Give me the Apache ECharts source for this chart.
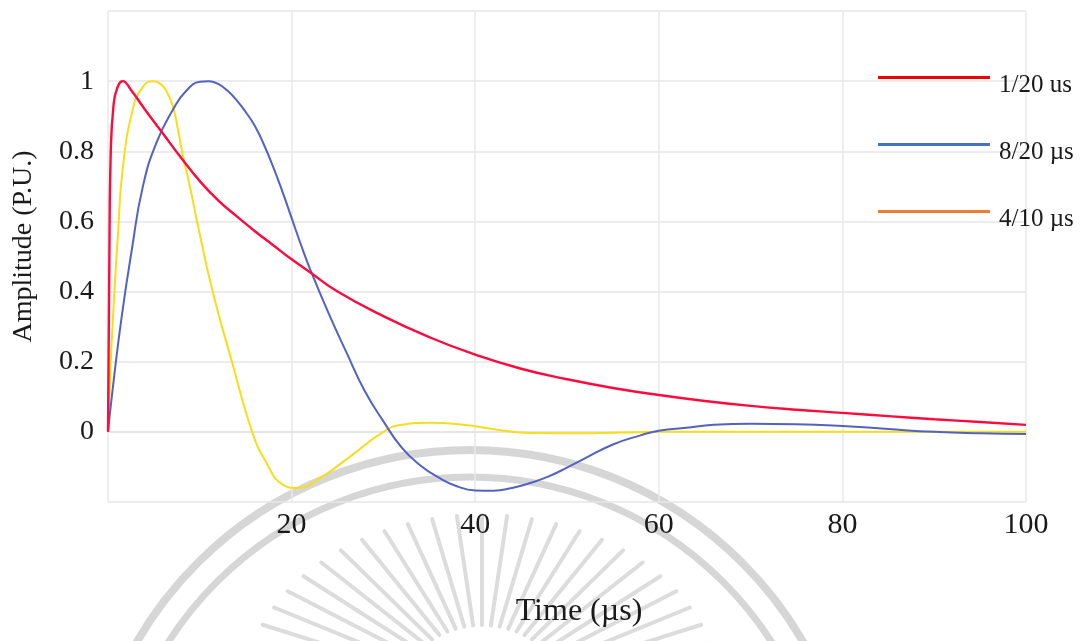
<!DOCTYPE html>
<html>
<head>
<meta charset="utf-8">
<title>Impulse waveforms</title>
<script src="https://cdn.jsdelivr.net/npm/echarts@6/dist/echarts.min.js"></script>
<style>
  html, body { margin: 0; padding: 0; background: #ffffff; }
  #chart { width: 1089px; height: 641px; }
</style>
</head>
<body>
<div id="chart"></div>
<script>
// Normalised impulse waveforms (amplitude in per-unit versus time in microseconds)

// 1/20 us waveform
const wave1T = [0, 0.15, 0.3, 0.6, 1.0, 1.6, 2.5, 4, 6, 8, 10, 12, 14, 16, 18, 20, 22, 25, 30, 35, 40, 45, 50, 55, 60, 65, 70, 75, 80, 85, 90, 95, 100];
const wave1V = [0, 0.5, 0.8, 0.93, 0.98, 1.0, 0.975, 0.92, 0.85, 0.78, 0.715, 0.66, 0.615, 0.572, 0.532, 0.492, 0.455, 0.40, 0.33, 0.27, 0.22, 0.18, 0.15, 0.125, 0.105, 0.088, 0.074, 0.063, 0.054, 0.045, 0.036, 0.028, 0.02];

// 8/20 us waveform
const wave2T = [0, 0.5, 1.5, 2.6, 3.8, 5.3, 7.1, 8.5, 10, 11, 12, 13, 14, 15, 16, 17, 18, 19, 20, 21, 22, 24, 26, 28, 30, 32, 34, 36, 38, 40, 42, 44, 46, 48, 50, 52, 55, 58, 60, 63, 66, 70, 75, 80, 85, 90, 95, 100];
const wave2V = [0, 0.12, 0.33, 0.52, 0.70, 0.826, 0.92, 0.972, 0.998, 1.0, 0.992, 0.973, 0.946, 0.912, 0.872, 0.818, 0.755, 0.685, 0.61, 0.535, 0.465, 0.34, 0.225, 0.115, 0.03, -0.045, -0.095, -0.13, -0.155, -0.167, -0.168, -0.16, -0.146, -0.127, -0.102, -0.075, -0.036, -0.01, 0.003, 0.012, 0.02, 0.023, 0.022, 0.017, 0.008, 0.0, -0.004, -0.006];

// 4/10 us waveform
const wave3T = [0, 0.3, 0.7, 1.1, 1.6, 2.7, 3.7, 4.8, 5.8, 6.5, 7.1, 7.6, 8.1, 9, 9.7, 11.4, 13.5, 15.7, 17.3, 19, 20.6, 22.8, 26.4, 30, 32, 35, 38.7, 42.4, 46, 51, 56, 60, 70, 80, 90, 100];
const wave3V = [0, 0.2, 0.4, 0.57, 0.75, 0.92, 0.98, 1.0, 0.99, 0.965, 0.925, 0.865, 0.795, 0.69, 0.6, 0.4, 0.2, 0.0, -0.09, -0.15, -0.16, -0.137, -0.07, 0.0, 0.02, 0.026, 0.02, 0.006, -0.003, -0.004, -0.002, 0, 0, 0, 0, 0];

const seriesNames = ['1/20 us', '8/20 µs', '4/10 µs'];
const curveColors = ['#ff0a3c', '#5262c2', '#f6de1c'];
const legendColors = ['#f00000', '#4472c4', '#ed7d31'];

const yTickLabels = ['0', '0.2', '0.4', '0.6', '0.8', '1'];
const xTickLabels = ['20', '40', '60', '80', '100'];

const zip = (t, v) => t.map((x, i) => [x, v[i]]);
const waves = [zip(wave1T, wave1V), zip(wave2T, wave2V), zip(wave3T, wave3V)];

// Faint grey seal ornament behind the lower part of the page: two rings and a fan of rays
const sealGrey = '#d6d6d6';
const ornament = [
  { type: 'circle', silent: true, z: 0, shape: { cx: 470, cy: 835, r: 385 },
    style: { fill: null, stroke: sealGrey, lineWidth: 8 } },
  { type: 'circle', silent: true, z: 0, shape: { cx: 470, cy: 835, r: 358 },
    style: { fill: null, stroke: sealGrey, lineWidth: 7 } }
];
for (let a = 192; a <= 348; a += 6) {
  const rad = a * Math.PI / 180;
  ornament.push({
    type: 'line', silent: true, z: 0,
    shape: {
      x1: 482 + 85 * Math.cos(rad), y1: 700 + 75 * Math.sin(rad),
      x2: 482 + 240 * Math.cos(rad), y2: 700 + 185 * Math.sin(rad)
    },
    style: { stroke: '#dcdcdc', lineWidth: 4, lineCap: 'round' }
  });
}

const serif = 'Liberation Serif, Times New Roman, serif';
const chart = echarts.init(document.getElementById('chart'), null, { renderer: 'canvas' });

chart.setOption({
  animation: false,
  backgroundColor: '#ffffff',
  graphic: ornament,
  grid: { left: 108, right: 63, top: 11, bottom: 139 },
  legend: {
    orient: 'vertical',
    left: 873,
    top: 52,
    icon: 'rect',
    itemWidth: 112,
    itemHeight: 3,
    itemGap: 26,
    formatter: name => '{t|' + name + '}',
    textStyle: {
      fontFamily: serif, fontSize: 25, color: '#1a1a1a',
      rich: {
        t: { fontFamily: serif, fontSize: 25, color: '#1a1a1a', lineHeight: 25, padding: [16, 0, 0, 4] }
      }
    },
    data: seriesNames.map((n, i) => ({ name: n, itemStyle: { color: legendColors[i] } }))
  },
  xAxis: {
    type: 'value',
    min: 0, max: 100, interval: 20,
    name: 'Time (µs)',
    nameLocation: 'middle',
    nameGap: 94,
    nameTextStyle: { fontFamily: serif, fontSize: 32, color: '#1a1a1a', padding: [0, 0, 0, 24] },
    axisLine: { show: true, lineStyle: { color: '#e2e2e2', width: 1.5 } },
    axisTick: { show: false },
    axisLabel: {
      fontFamily: serif, fontSize: 30, color: '#1a1a1a', margin: 8,
      formatter: v => (xTickLabels.includes(String(v)) ? String(v) : '')
    },
    splitLine: { show: true, lineStyle: { color: '#e8e8e8', width: 1.5 } }
  },
  yAxis: {
    type: 'value',
    min: -0.2, max: 1.2, interval: 0.2,
    name: 'Amplitude (P.U.)',
    nameLocation: 'middle',
    nameRotate: 90,
    nameGap: 70,
    nameTextStyle: { fontFamily: serif, fontSize: 28, color: '#1a1a1a', padding: [0, 0, 0, 20] },
    axisLine: { show: false },
    axisTick: { show: false },
    axisLabel: {
      fontFamily: serif, fontSize: 28, color: '#1a1a1a', margin: 14,
      formatter: v => {
        const s = String(Math.round(v * 10) / 10);
        return yTickLabels.includes(s) ? s : '';
      }
    },
    splitLine: { show: true, lineStyle: { color: '#e6e6e6', width: 1.5 } }
  },
  series: waves.map((d, i) => ({
    name: seriesNames[i],
    type: 'line',
    data: d,
    symbol: 'none',
    smooth: 0.5,
    itemStyle: { color: legendColors[i] },
    lineStyle: { color: curveColors[i], width: i === 0 ? 2.4 : 2 },
    z: 3 - i
  }))
});
</script>
</body>
</html>
